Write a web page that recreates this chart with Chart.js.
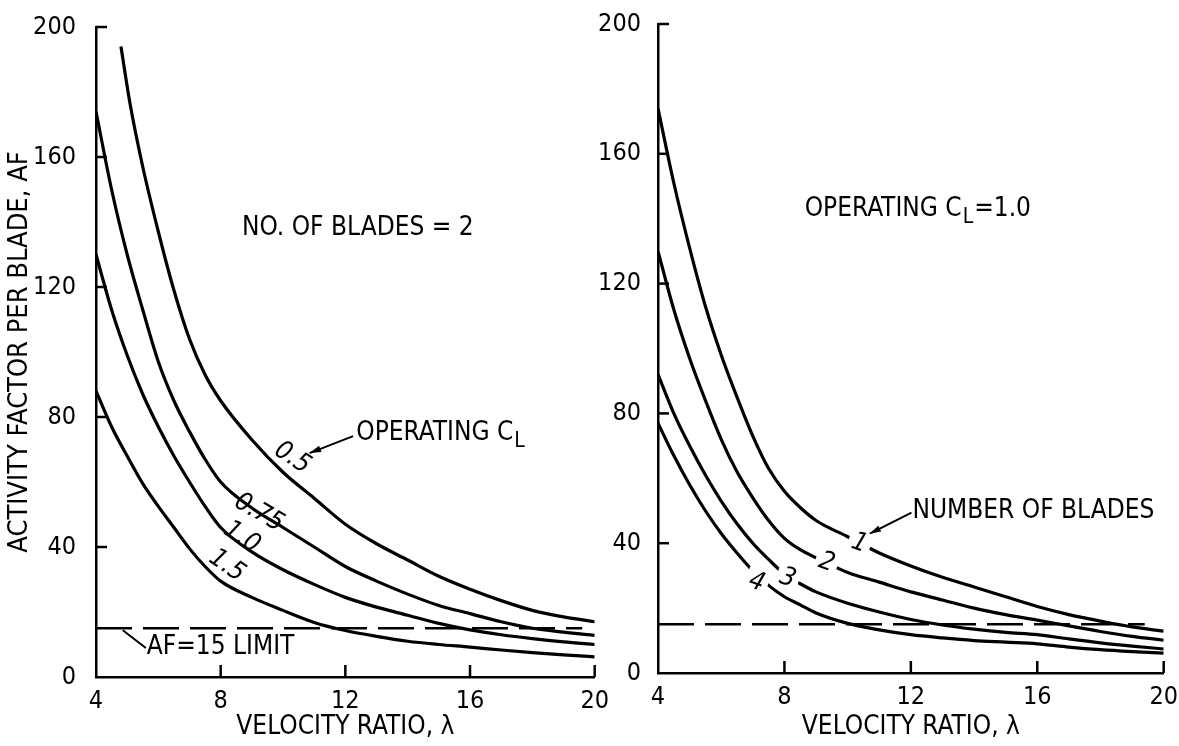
<!DOCTYPE html>
<html>
<head>
<meta charset="utf-8">
<script src="https://cdn.jsdelivr.net/npm/chart.js@4.4.1/dist/chart.umd.min.js"></script>
<style>
  html, body { margin: 0; padding: 0; background: #fff; }
  #wrap { position: relative; width: 1179px; height: 746px; overflow: hidden; background: #fff; }
  #wrap canvas { position: absolute; top: 0; }
  #left { left: 0; }
  #right { left: 570px; }
</style>
</head>
<body>
<div id="wrap">
  <canvas id="left" width="610" height="746"></canvas>
  <canvas id="right" width="609" height="746"></canvas>
</div>
<script>
// ---- axis ticks ----
const xTicks = [4, 8, 12, 16, 20];
const yTicks = [0, 40, 80, 120, 160, 200];

// ---- left panel: two blades, activity factor vs velocity ratio for each operating CL ----
const lambdaCl05 = [4.8, 5.1, 5.5, 6, 6.5, 7, 7.5, 8, 9, 10, 11, 12, 13, 14, 15, 16, 17, 18, 19, 20];
const afCl05     = [194, 176, 157, 137, 119, 104, 93, 85, 73, 63, 55, 47, 41, 36, 31, 27, 23.5, 20.5, 18.5, 17];
const lambdaCl   = [4, 4.5, 5, 5.5, 6, 6.5, 7, 7.5, 8, 9, 10, 11, 12, 13, 14, 15, 16, 17, 18, 19, 20];
const afCl075    = [174, 150, 130, 113, 97, 85, 75.5, 67, 60, 52, 46, 40, 34, 29.5, 25.5, 22, 19.5, 17, 15, 13.8, 12.8];
const afCl10     = [130, 113, 99, 87, 77, 68, 60, 52.5, 46, 38.5, 33, 28.5, 24.5, 21.5, 19, 16.5, 14.5, 13, 11.8, 10.8, 10];
const afCl15     = [88, 77, 68, 59.5, 52.5, 46, 39.5, 34, 29.5, 24.5, 20.5, 16.8, 14.3, 12.5, 11, 10, 9.2, 8.3, 7.5, 6.8, 6.2];

// ---- right panel: CL = 1.0, one curve per number of blades ----
const lambdaBlades = [4, 4.5, 5, 5.5, 6, 6.5, 7, 7.5, 8, 8.5, 9, 10, 11, 12, 13, 14, 15, 16, 17, 18, 19, 20];
const afBlades1    = [174, 151, 131, 113, 98, 85, 73, 63, 56, 51, 47, 42, 37, 33, 29.5, 26.5, 23.5, 20.5, 18, 16, 14.2, 12.9];
const afBlades2    = [130, 112, 97, 84, 72, 62, 54, 47, 41.5, 38, 35.5, 31, 28, 25, 22.5, 20, 18, 16.3, 14.5, 12.8, 11.3, 10.1];
const afBlades3    = [92, 80, 70, 61, 53, 46, 40, 35, 30.5, 27.5, 25, 21.5, 18.8, 16.5, 14.8, 13.5, 12.5, 11.8, 10.5, 9.3, 8.3, 7.4];
const afBlades4    = [77, 67, 58, 50, 43, 37, 31.5, 27, 23.5, 21, 18.5, 15.3, 13.3, 11.8, 10.8, 10, 9.5, 9, 8, 7.2, 6.6, 6.1];

// ---- AF = 15 limit line ----
const limitAF = 15;
const limitLambdaLeft  = [4, 19.6];
const limitLambdaRight = [4, 19.4];

const FONT = "'Liberation Sans Narrow', 'DejaVu Sans Condensed', 'Arial Narrow', 'Liberation Sans', sans-serif";
Chart.defaults.font.family = FONT;
Chart.defaults.color = '#000';

const pts = (xs, ys) => xs.map((x, i) => ({ x, y: ys[i] }));
const curve = (xs, ys) => ({ data: pts(xs, ys), borderColor: '#000', borderWidth: 3.2, pointRadius: 0, cubicInterpolationMode: 'monotone', fill: false });
const limitLine = (xs) => ({ data: pts(xs, xs.map(() => limitAF)), borderColor: '#000', borderWidth: 2.5, borderDash: [36, 11], pointRadius: 0, fill: false, tension: 0 });

// ---- drawing helpers for the notes on each panel ----
function drawText(ctx, parts, x, y, size, align, opt) {
  opt = opt || {};
  ctx.save();
  ctx.translate(x, y);
  if (opt.rot) ctx.rotate(opt.rot * Math.PI / 180);
  const style = (opt.italic ? 'italic ' : '');
  const fontMain = style + size + 'px ' + FONT;
  const fontSub = style + Math.round(size * 0.8) + 'px ' + FONT;
  let total = 0;
  parts.forEach(p => { ctx.font = p.sub ? fontSub : fontMain; total += ctx.measureText(p.t).width + (p.sub ? 2 : 0); });
  let cx = align === 'center' ? -total / 2 : (align === 'right' ? -total : 0);
  ctx.textBaseline = 'middle';
  ctx.textAlign = 'left';
  if (opt.knock) {
    ctx.fillStyle = '#fff';
    ctx.fillRect(cx - opt.knock, -size * 0.5, total + 2 * opt.knock, size);
  }
  ctx.fillStyle = '#000';
  parts.forEach(p => {
    ctx.font = p.sub ? fontSub : fontMain;
    const dy = p.sub ? size * 0.32 : 0;
    ctx.fillText(p.t, cx + (p.sub ? 1 : 0), dy);
    cx += ctx.measureText(p.t).width + (p.sub ? 2 : 0);
  });
  ctx.restore();
}

function drawArrow(ctx, x1, y1, x2, y2, head) {
  ctx.save();
  ctx.strokeStyle = '#000';
  ctx.fillStyle = '#000';
  ctx.lineWidth = 2;
  ctx.beginPath(); ctx.moveTo(x1, y1); ctx.lineTo(x2, y2); ctx.stroke();
  if (head) {
    const a = Math.atan2(y2 - y1, x2 - x1);
    ctx.beginPath();
    ctx.moveTo(x2, y2);
    ctx.lineTo(x2 - 12 * Math.cos(a - 0.28), y2 - 12 * Math.sin(a - 0.28));
    ctx.lineTo(x2 - 12 * Math.cos(a + 0.28), y2 - 12 * Math.sin(a + 0.28));
    ctx.closePath(); ctx.fill();
  }
  ctx.restore();
}

// inward tick marks plus all notes, placed with the chart's own scales
const notesPlugin = {
  id: 'notes',
  afterDatasetsDraw(chart, args, opts) {
    const ctx = chart.ctx;
    const xs = chart.scales.x, ys = chart.scales.y;
    const area = chart.chartArea;
    ctx.save();
    ctx.strokeStyle = '#000';
    ctx.lineWidth = 2.5;
    yTicks.slice(1).forEach(v => {
      const py = ys.getPixelForValue(v);
      ctx.beginPath(); ctx.moveTo(area.left, py); ctx.lineTo(area.left + 11, py); ctx.stroke();
    });
    xTicks.slice(1).forEach(v => {
      const px = xs.getPixelForValue(v);
      ctx.beginPath(); ctx.moveTo(px, area.bottom); ctx.lineTo(px, area.bottom - 12); ctx.stroke();
    });
    ctx.restore();
    (opts.items || []).forEach(it => {
      if (it.arrow) {
        drawArrow(ctx, xs.getPixelForValue(it.from[0]), ys.getPixelForValue(it.from[1]),
                  xs.getPixelForValue(it.to[0]), ys.getPixelForValue(it.to[1]), it.head);
      } else {
        drawText(ctx, it.parts, xs.getPixelForValue(it.at[0]), ys.getPixelForValue(it.at[1]),
                 it.size, it.align, it);
      }
    });
  }
};

function makePanel(id, datasets, cfg) {
  return new Chart(document.getElementById(id), {
    type: 'line',
    data: { datasets },
    options: {
      responsive: false,
      animation: false,
      devicePixelRatio: 1,
      layout: { padding: { top: cfg.top, right: cfg.right, left: 0, bottom: 0 } },
      plugins: { legend: { display: false }, tooltip: { enabled: false }, notes: { items: cfg.notes } },
      scales: {
        x: {
          type: 'linear', min: 4, max: 20,
          afterBuildTicks: s => { s.ticks = xTicks.map(v => ({ value: v })); },
          grid: { display: false },
          border: { display: true, color: '#000', width: 2.5 },
          ticks: { color: '#000', font: { size: 25 }, padding: 1, maxRotation: 0, autoSkip: false },
          title: { display: true, text: 'VELOCITY RATIO, λ', color: '#000', font: { size: 26 }, padding: { top: 0, bottom: 3 } },
          afterFit: s => { s.height = cfg.xh; }
        },
        y: {
          type: 'linear', min: 0, max: 200,
          afterBuildTicks: s => { s.ticks = yTicks.map(v => ({ value: v })); },
          grid: { display: false },
          border: { display: true, color: '#000', width: 2.5 },
          ticks: { color: '#000', font: { size: 25 }, padding: cfg.ypad, autoSkip: false },
          title: { display: cfg.ytitle, text: 'ACTIVITY FACTOR PER BLADE, AF', color: '#000', font: { size: 27 }, padding: { top: 4, bottom: 0 } },
          afterFit: s => { s.width = cfg.yw; }
        }
      }
    },
    plugins: [notesPlugin]
  });
}

const T = 26;
makePanel('left', [
  curve(lambdaCl05, afCl05),
  curve(lambdaCl, afCl075),
  curve(lambdaCl, afCl10),
  curve(lambdaCl, afCl15),
  limitLine(limitLambdaLeft)
], {
  top: 24, right: 12, xh: 69, yw: 96, ypad: 12, ytitle: true,
  notes: [
    { parts: [{ t: 'NO. OF BLADES = 2' }], at: [12.4, 138], size: T, align: 'center' },
    { parts: [{ t: 'OPERATING C' }, { t: 'L', sub: true }], at: [12.35, 75], size: T, align: 'left' },
    { arrow: true, from: [12.25, 74.1], to: [10.85, 68.9], head: true },
    { parts: [{ t: 'AF=15 LIMIT' }], at: [5.63, 9.2], size: T, align: 'left' },
    { arrow: true, from: [4.86, 14.4], to: [5.6, 8.9], head: false },
    { parts: [{ t: '0.5' }], at: [10.3, 67.4], size: T, align: 'center', italic: true, rot: 33 },
    { parts: [{ t: '0.75' }], at: [9.23, 50.5], size: T, align: 'center', italic: true, rot: 30 },
    { parts: [{ t: '1.0' }], at: [8.68, 42.9], size: T, align: 'center', italic: true, rot: 33 },
    { parts: [{ t: '1.5' }], at: [8.2, 34.2], size: T, align: 'center', italic: true, rot: 35 }
  ]
});

makePanel('right', [
  curve(lambdaBlades, afBlades1),
  curve(lambdaBlades, afBlades2),
  curve(lambdaBlades, afBlades3),
  curve(lambdaBlades, afBlades4),
  limitLine(limitLambdaRight)
], {
  top: 21, right: 14, xh: 73, yw: 88, ypad: 9, ytitle: false,
  notes: [
    { parts: [{ t: 'OPERATING C' }, { t: 'L', sub: true }, { t: '=1.0' }], at: [8.64, 143], size: T, align: 'left' },
    { parts: [{ t: 'NUMBER OF BLADES' }], at: [12.05, 50], size: T, align: 'left' },
    { arrow: true, from: [12.02, 49.4], to: [10.69, 42.9], head: true },
    { parts: [{ t: '1' }], at: [10.37, 39.9], size: T, align: 'center', italic: true, rot: 20, knock: 4 },
    { parts: [{ t: '2' }], at: [9.33, 34], size: T, align: 'center', italic: true, rot: 20, knock: 4 },
    { parts: [{ t: '3' }], at: [8.1, 29.1], size: T, align: 'center', italic: true, rot: 20, knock: 4 },
    { parts: [{ t: '4' }], at: [7.12, 27.9], size: T, align: 'center', italic: true, rot: 20, knock: 4 }
  ]
});
</script>
</body>
</html>
